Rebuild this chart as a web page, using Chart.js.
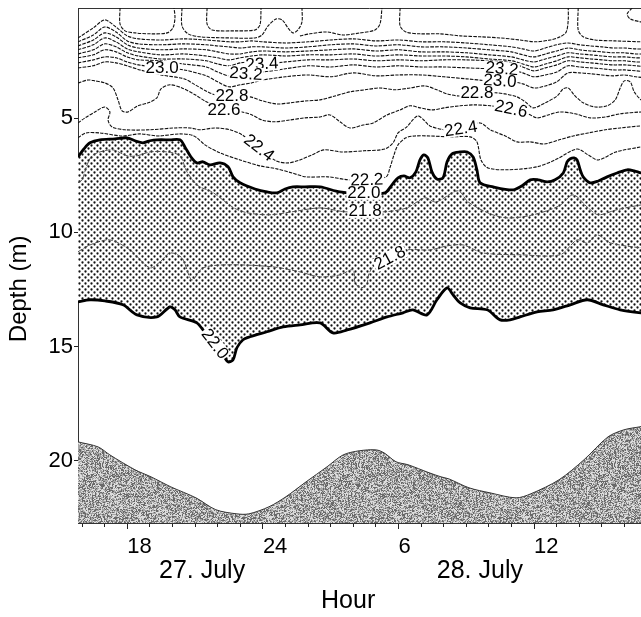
<!DOCTYPE html>
<html>
<head>
<meta charset="utf-8">
<script src="https://cdn.jsdelivr.net/npm/chart.js@4.4.1/dist/chart.umd.min.js"></script>
<style>
  html, body { margin: 0; padding: 0; background: #fff; overflow: hidden; }
  #wrap { width: 641px; height: 617px; overflow: hidden; }
  canvas { display: block; }
</style>
</head>
<body>
<div id="wrap"><canvas id="chart" width="680" height="617"></canvas></div>
<script>
/* Temperature section: isotherms vs depth and time, 27-28 July */

const NBSP = "\u00a0";
const FONT = "'Liberation Sans', Arial, Helvetica, sans-serif";

// ── Axes ─────────────────────────────────────────────────────────────────────
const HOUR_MIN = 15.82, HOUR_MAX = 41.57;
const DEPTH_MIN = 0.18, DEPTH_MAX = 22.72;
const HOUR_TICKS = [16,17,18,19,20,21,22,23,24,25,26,27,28,29,30,31,32,33,34,35,36,37,38,39,40,41];
const DEPTH_TICKS = [5, 10, 15, 20];
const DATE_TICKS = [21.31, 33.6];
const DATE_LABELS = ["27. July", "28. July"];

// ── Upper bundle of isotherms (shared hour grid) ─────────────────────────────
const hoursBundle = [15.82,16.5,17,17.5,18,18.5,19.5,20.5,21.5,22,22.5,23,23.5,24,25,26,27,28,29,30,31,32,33,34,35,35.5,36,36.5,37,37.5,38,38.5,39,39.5,40,40.5,41];
const depthU1 = [1.49,1.05,0.70,1.01,1.40,1.53,1.58,1.53,1.58,1.62,1.66,1.66,1.62,1.66,1.71,1.66,1.58,1.53,1.62,1.58,1.66,1.66,1.71,1.79,1.88,1.97,2.06,1.93,1.79,1.71,1.79,1.84,1.88,1.93,1.93,1.97,1.97];
const depthU2 = [1.66,1.36,1.01,1.23,1.62,1.75,1.79,1.75,1.79,1.84,1.88,1.93,1.88,1.88,1.93,1.88,1.79,1.75,1.84,1.79,1.88,1.88,1.93,2.01,2.10,2.23,2.32,2.19,2.06,1.93,2.01,2.06,2.10,2.14,2.14,2.19,2.19];
const depthU3 = [1.84,1.58,1.27,1.44,1.79,1.93,2.01,1.97,2.01,2.10,2.19,2.19,2.10,2.06,2.10,2.06,2.01,1.97,2.06,2.01,2.10,2.10,2.14,2.23,2.32,2.45,2.54,2.41,2.28,2.14,2.19,2.23,2.28,2.32,2.32,2.36,2.36];
const depthU4 = [2.01,1.79,1.49,1.66,1.97,2.10,2.23,2.19,2.28,2.36,2.45,2.36,2.28,2.23,2.28,2.23,2.23,2.19,2.28,2.23,2.28,2.28,2.32,2.41,2.49,2.63,2.76,2.63,2.49,2.32,2.36,2.41,2.45,2.49,2.49,2.54,2.54];
const depthU5 = [2.19,2.01,1.75,1.88,2.14,2.28,2.41,2.41,2.49,2.63,2.71,2.58,2.54,2.63,2.54,2.45,2.45,2.41,2.49,2.45,2.49,2.45,2.45,2.49,2.58,2.76,2.93,2.80,2.67,2.49,2.54,2.58,2.63,2.67,2.67,2.71,2.76];
const depthU6 = [2.36,2.23,2.01,2.10,2.32,2.45,2.49,2.63,2.76,2.98,3.15,3.02,3.02,2.98,2.84,2.71,2.76,2.67,2.76,2.71,2.76,2.76,2.80,2.84,2.89,3.02,3.19,3.11,2.98,2.71,2.76,2.80,2.84,2.89,2.89,2.93,2.98];
const depthU7 = [2.58,2.45,2.32,2.36,2.54,2.67,2.80,2.89,3.15,3.41,3.63,3.54,3.46,3.33,3.19,3.11,3.19,3.02,3.15,3.11,3.11,3.19,3.28,3.37,3.41,3.50,3.68,3.59,3.41,3.02,3.02,3.06,3.11,3.15,3.11,3.19,3.24];

// ── Warm pockets reaching the surface ────────────────────────────────────────
const pocketHours = [
  [17.68,17.68,17.90,18.34,19.00,19.76,20.02,20.11,20.07],
  [20.42,20.42,20.69,21.22,22.54,23.65,23.96,24.23,24.58,24.85,25.11,25.33,25.55,25.73,25.73],
  [21.53,21.53,21.75,22.77,23.65,23.87,23.92],
  [25.64,26.08,26.83,27.55,28.30,28.96,29.18,29.27],
  [30.07,30.07,30.33,30.95,31.84,32.73,33.61,34.50,35.38,36.04,36.71,37.15,37.42,37.51,37.51],
  [37.95,37.95,38.17,38.70,39.59,40.73,41.00],
  [40.34,40.12,40.25,40.73,41.00]
];
const pocketDepths = [
  [0.18,0.88,1.18,1.27,1.31,1.27,1.05,0.61,0.18],
  [0.18,0.96,1.31,1.44,1.49,1.49,1.36,0.96,0.66,0.70,1.05,1.27,1.14,0.79,0.18],
  [0.18,0.88,1.14,1.18,1.14,0.92,0.18],
  [1.40,1.31,1.23,1.36,1.27,1.14,0.88,0.18],
  [0.18,0.96,1.23,1.31,1.31,1.40,1.44,1.49,1.58,1.66,1.58,1.44,1.23,0.70,0.18],
  [0.18,1.14,1.44,1.58,1.62,1.66,1.66],
  [0.18,0.44,0.66,0.79,0.83]
];

// ── Isotherms 22.8 … 22.2 ────────────────────────────────────────────────────
const hours228 = [15.82,16.48,17.01,17.50,17.99,18.56,19.49,20.51,21.00,21.48,21.88,22.63,23.43,24.00,24.62,25.20,25.86,26.53,27.19,27.85,28.52,29.18,29.85,30.51,31.17,31.70,32.15,32.73,33.47,34.28,34.72,35.25,35.61,35.96,36.49,37.02,37.29,37.51,37.77,38.17,38.70,39.23,39.59,39.81,39.99,40.25,40.43,40.73,41.00];
const depth228 = [2.80,2.71,2.54,2.58,2.71,2.89,3.11,3.28,3.54,3.81,3.98,4.03,4.07,4.25,4.38,4.33,4.25,4.20,4.03,3.85,3.76,3.68,3.76,3.68,3.59,3.76,3.94,4.03,3.89,3.89,3.94,4.07,4.29,4.55,4.33,4.03,3.72,3.68,3.98,4.33,4.51,4.46,4.20,3.68,3.37,3.41,3.85,4.20,4.33];

const hours226 = [15.82,16.26,16.57,17.01,17.37,17.59,17.77,18.03,18.47,18.92,19.31,19.49,19.89,20.42,21.00,21.44,22.28,23.08,23.52,23.96,24.53,25.20,25.86,26.53,26.97,27.41,27.85,28.43,28.88,29.49,30.07,30.51,30.95,31.48,32.02,32.73,33.38,34.06,34.98,35.73,36.13,36.62,37.15,37.81,38.48,39.15,39.81,40.73,41.00];
const depth226 = [3.46,3.33,3.37,3.46,3.68,4.20,4.68,4.73,4.46,4.33,4.11,3.72,3.54,3.68,3.98,4.25,4.64,4.73,4.86,5.08,5.16,5.08,4.99,4.95,4.86,5.16,5.43,5.30,5.21,4.86,4.64,4.46,4.55,4.64,4.55,4.46,4.42,4.46,4.60,4.81,4.99,4.86,4.73,4.81,4.99,4.95,4.81,4.73,4.73];

const hours224 = [15.82,16.13,16.57,17.01,17.23,17.15,17.32,17.90,19.00,20.11,20.78,21.22,21.88,22.54,23.08,23.83,24.58,25.11,25.64,26.17,26.70,27.51,28.47,29.40,29.76,29.98,30.37,30.63,30.86,31.12,31.39,32.06,32.77,33.61,34.06,34.72,35.25,35.83,36.45,37.11,37.73,38.39,39.15,39.81,40.73,41.00];
const depth224 = [5.21,4.99,4.73,4.51,4.73,5.08,5.38,5.51,5.51,5.43,5.43,5.51,5.43,5.51,5.73,6.30,6.87,6.96,6.83,6.61,6.39,6.48,6.43,6.35,6.08,5.65,5.38,5.08,4.90,5.08,5.34,5.51,5.47,5.21,5.51,5.78,6.04,6.04,6.13,5.95,5.78,5.65,5.51,5.43,5.34,5.34];

const hours222 = [15.82,16.17,16.79,17.77,18.56,19.36,20.33,20.95,21.44,22.10,22.99,23.87,24.62,25.29,25.91,26.88,27.77,28.60,29.45,29.62,29.80,29.98,30.33,30.73,31.39,32.28,33.17,33.47,33.65,33.96,34.85,36.13,36.93,37.90,38.39,38.84,39.62,40.73,41.00];
const depth222 = [5.86,5.65,5.65,5.78,5.69,5.78,5.69,5.78,6.17,6.52,6.83,7.09,7.22,7.40,7.57,7.57,7.70,7.70,7.57,7.18,6.61,6.17,5.86,5.78,5.78,5.82,5.82,6.04,6.83,7.18,7.26,7.13,6.83,6.35,6.61,6.83,6.48,6.26,6.21];

// ── 22.0 isotherm: upper and lower bound of the cold layer ──────────────────
const hours220Top = [15.82,16.08,16.35,16.79,17.46,17.99,18.34,18.69,19.00,19.31,19.89,20.33,20.55,20.82,21.08,21.35,21.66,22.10,22.46,22.68,22.99,23.65,24.18,24.62,24.98,25.33,25.86,26.53,27.41,28.47,29.40,29.71,29.98,30.24,30.51,30.77,30.95,31.12,31.30,31.48,31.70,31.97,32.15,32.37,32.73,33.04,33.30,33.47,33.61,34.19,35.07,35.47,35.83,36.18,36.58,36.93,37.29,37.46,37.60,37.77,37.90,38.04,38.17,38.48,38.84,39.23,39.67,40.12,40.43,40.73,41.00];
const depth220Top = [6.70,6.35,6.08,5.95,5.91,5.86,5.99,6.08,5.99,5.95,5.95,5.95,6.26,6.70,6.96,6.91,7.05,6.96,7.13,7.57,7.83,8.10,8.23,8.27,8.10,8.01,8.01,8.01,8.23,8.32,8.27,7.92,7.61,7.53,7.61,7.35,6.83,6.61,6.74,7.35,7.66,7.61,6.91,6.56,6.48,6.48,6.70,7.26,7.83,8.01,8.14,7.96,7.70,7.70,7.79,7.70,7.40,6.91,6.78,6.74,6.83,7.26,7.57,7.83,7.75,7.57,7.40,7.26,7.31,7.40,7.44];

const hours220Bot = [15.82,16.35,17.01,17.81,18.43,19.31,19.89,20.11,20.33,21.08,21.35,21.88,22.32,22.46,22.68,22.85,23.12,23.43,24.18,24.89,25.64,26.53,27.10,27.73,28.74,29.49,30.20,30.63,31.26,31.70,32.15,32.42,32.73,33.17,33.92,34.50,34.94,35.38,36.13,36.84,37.60,38.35,39.06,39.81,40.73,41.00];
const depth220Bot = [13.04,12.95,13.00,13.17,13.61,13.70,13.26,13.39,13.70,13.96,14.27,14.88,15.49,15.67,15.58,15.05,14.70,14.57,14.35,14.14,14.05,13.96,14.40,14.27,13.96,13.70,13.52,13.39,13.61,12.95,12.43,12.74,13.09,13.30,13.39,13.83,13.83,13.70,13.48,13.39,13.17,12.95,13.17,13.39,13.52,13.52];

// ── 21.8 isotherms inside the cold layer ─────────────────────────────────────
const hours218Up = [15.82,16.00,16.22,16.44,16.79,17.37,17.99,18.43,19.00,19.76,20.33,20.64,21.13,21.75,22.72,23.34,24.31,25.29,26.53,27.64,28.52,29.40,30.37,31.17,31.66,32.63,33.08,34.06,34.85,35.96,37.11,37.73,38.39,38.84,39.62,40.73,41.00];
const depth218Up = [7.83,7.70,7.05,6.65,6.48,6.39,6.65,6.65,6.48,6.48,6.65,7.35,7.96,8.23,8.93,9.15,9.23,9.10,8.93,9.10,9.06,9.10,8.93,8.49,8.67,8.18,8.67,9.19,9.37,9.23,8.84,8.36,8.93,9.23,9.02,8.80,8.80];

const hours218Low = [15.82,16.35,17.23,18.12,19.00,19.45,19.89,20.42,20.86,21.35,22.54,24.45,25.64,26.53,27.41,27.99,28.08,28.34,28.60,28.69,28.96,29.62,30.37,31.39,32.15,32.86,33.74,35.38,37.15,37.90,38.35,38.79,39.37,40.73,41.00];
const depth218Low = [10.85,10.55,10.33,10.77,11.55,11.29,10.90,11.12,12.08,11.55,11.42,11.51,11.73,11.95,11.86,11.64,12.21,12.43,12.25,11.82,11.42,11.12,10.77,10.77,10.59,10.55,10.90,10.98,10.98,10.33,10.46,10.11,10.46,10.68,10.68];

// ── Sea bed ──────────────────────────────────────────────────────────────────
const hoursBed = [15.82,16.71,17.23,18.34,19.05,19.93,21.04,21.92,22.85,23.38,24.27,25.02,25.91,26.84,27.55,28.26,29.01,29.36,29.89,30.42,31.35,31.88,32.23,33.12,34.05,35.20,35.86,37.10,38.21,39.27,39.98,40.68,41.13];
const depthBed = [19.17,19.39,19.74,20.39,20.70,21.14,21.62,22.14,22.32,22.32,22.01,21.57,20.92,20.26,19.74,19.56,19.52,19.65,20.04,20.17,20.52,20.70,20.79,21.18,21.40,21.62,21.44,20.83,19.95,18.95,18.64,18.51,18.42];

// ── Contour labels ───────────────────────────────────────────────────────────
const labelText  = ["23.0","23.4","23.2","22.8","22.6","22.4","23.2","23.0","22.8","22.6","22.4","22.2","22.0","21.8","21.8","22.0"];
const labelHour  = [19.54,23.96,23.25,22.63,22.28,23.83,34.58,34.49,33.47,34.98,32.76,28.60,28.47,28.52,29.62,21.88];
const labelDepth = [2.80,2.63,3.06,4.03,4.64,6.30,2.84,3.37,3.89,4.60,5.47,7.70,8.27,9.06,11.12,14.88];
const labelAngle = [0,-3,4,0,0,38,5,4,0,12,-9,-2,0,0,-28,52];

// ── Fill patterns ────────────────────────────────────────────────────────────
function dotPattern() {
  const c = document.createElement("canvas");
  c.width = c.height = 6;
  const g = c.getContext("2d");
  g.fillStyle = "#fff"; g.fillRect(0, 0, 6, 6);
  g.fillStyle = "#111";
  [[1.5, 1.5], [4.5, 4.5]].forEach(([cx, cy]) => {
    g.beginPath(); g.arc(cx, cy, 1.15, 0, Math.PI * 2); g.fill();
  });
  return g.createPattern(c, "repeat");
}

// speckled grey for the sea bed (fixed seed, texture only)
function grainPattern() {
  const n = 128, c = document.createElement("canvas");
  c.width = c.height = n;
  const g = c.getContext("2d");
  const img = g.createImageData(n, n);
  let a = 0x9e3779b9;
  const rand = () => {
    a = (a + 0x6d2b79f5) | 0;
    let t = Math.imul(a ^ (a >>> 15), 1 | a);
    t = (t + Math.imul(t ^ (t >>> 7), 61 | t)) ^ t;
    return ((t ^ (t >>> 14)) >>> 0) / 4294967296;
  };
  for (let i = 0; i < n * n; i++) {
    const r = rand();
    const v = r < 0.3 ? 105 : r < 0.65 ? 165 : 220;
    img.data[i * 4] = img.data[i * 4 + 1] = img.data[i * 4 + 2] = v;
    img.data[i * 4 + 3] = 255;
  }
  g.putImageData(img, 0, 0);
  return g.createPattern(c, "repeat");
}

// ── Datasets ─────────────────────────────────────────────────────────────────
const pts = (hs, ds) => hs.map((h, i) => ({ x: h, y: ds[i] }));

const thin = (hs, ds) => ({
  data: pts(hs, ds),
  borderColor: "#111", borderWidth: 1.1, borderDash: [3.5, 1.2],
  pointRadius: 0, tension: 0.3, fill: false, order: 1
});

const datasets = [
  { // sea bed
    data: pts(hoursBed, depthBed),
    borderColor: "#333", borderWidth: 1, pointRadius: 0, tension: 0.3,
    fill: { value: DEPTH_MAX }, backgroundColor: grainPattern(), order: 7
  },
  { // 22.0 upper, filled down to the lower 22.0 line
    data: pts(hours220Top, depth220Top),
    borderColor: "#000", borderWidth: 2.8, pointRadius: 0, tension: 0.3,
    fill: "+1", backgroundColor: dotPattern(), order: 6
  },
  { // 22.0 lower
    data: pts(hours220Bot, depth220Bot),
    borderColor: "#000", borderWidth: 2.8, pointRadius: 0, tension: 0.3,
    fill: false, order: 5
  },
  { ...thin(hours218Up, depth218Up), borderColor: "#444", borderWidth: 0.9, borderDash: [5, 1.5] },
  { ...thin(hours218Low, depth218Low), borderColor: "#444", borderWidth: 0.9, borderDash: [5, 1.5] },
  thin(hours222, depth222),
  thin(hours224, depth224),
  thin(hours226, depth226),
  thin(hours228, depth228),
  thin(hoursBundle, depthU1),
  thin(hoursBundle, depthU2),
  thin(hoursBundle, depthU3),
  thin(hoursBundle, depthU4),
  thin(hoursBundle, depthU5),
  thin(hoursBundle, depthU6),
  thin(hoursBundle, depthU7),
  ...pocketHours.map((hs, i) => thin(hs, pocketDepths[i]))
];

// ── Contour label plugin ─────────────────────────────────────────────────────
const contourLabels = {
  id: "contourLabels",
  afterDatasetsDraw(chart) {
    const { ctx, scales: { x, y } } = chart;
    ctx.save();
    ctx.font = "17px " + FONT;
    ctx.textAlign = "center";
    ctx.textBaseline = "middle";
    labelText.forEach((t, i) => {
      const px = x.getPixelForValue(labelHour[i]);
      const py = y.getPixelForValue(labelDepth[i]);
      ctx.save();
      ctx.translate(px, py);
      ctx.rotate(labelAngle[i] * Math.PI / 180);
      const w = ctx.measureText(t).width;
      ctx.fillStyle = "#fff";
      ctx.fillRect(-w / 2 - 1, -7, w + 2, 14);
      ctx.fillStyle = "#000";
      ctx.fillText(t, 0, 0.5);
      ctx.restore();
    });
    ctx.restore();
  }
};

// ── Chart ────────────────────────────────────────────────────────────────────
const axisBorder = { display: true, color: "#333", width: 1, dash: [3, 2] };
const noPad = s => { s.paddingTop = 0; s.paddingBottom = 0; s.paddingLeft = 0; s.paddingRight = 0; };

new Chart(document.getElementById("chart"), {
  type: "line",
  data: { datasets },
  plugins: [contourLabels],
  options: {
    responsive: false,
    animation: false,
    devicePixelRatio: 1,
    layout: { padding: { top: 8, right: 20, bottom: 0, left: 0 } },
    plugins: { legend: { display: false }, tooltip: { enabled: false } },
    scales: {
      x: {
        type: "linear", position: "bottom", weight: 0,
        min: HOUR_MIN, max: HOUR_MAX,
        afterBuildTicks: s => { s.ticks = HOUR_TICKS.map(v => ({ value: v })); },
        afterFit: s => { s.height = 33; noPad(s); },
        ticks: {
          align: "start", padding: 5, color: "#000", maxRotation: 0, autoSkip: false,
          font: { family: FONT, size: 22 },
          callback: v => v % 6 === 0 ? String(v % 24 === 0 ? 24 : v % 24) : ""
        },
        grid: {
          drawOnChartArea: false, drawTicks: true, tickLength: 6,
          tickColor: "#222", tickWidth: 1,
          tickBorderDash: c => (c.tick && c.tick.value % 6 === 0) ? [] : [3, 20]
        },
        border: axisBorder
      },
      xDate: {
        type: "linear", position: "bottom", weight: 1,
        min: HOUR_MIN, max: HOUR_MAX,
        afterBuildTicks: s => { s.ticks = DATE_TICKS.map(v => ({ value: v })); },
        afterFit: s => { s.height = 61; noPad(s); },
        ticks: {
          padding: 0, color: "#000", maxRotation: 0, autoSkip: false,
          font: { family: FONT, size: 25 },
          callback: (v, i) => DATE_LABELS[i]
        },
        grid: { display: false, drawTicks: false, drawOnChartArea: false },
        border: { display: false },
        title: {
          display: true, text: "Hour" + NBSP.repeat(6), color: "#000",
          font: { family: FONT, size: 25 }, padding: { top: 0, bottom: 1 }
        }
      },
      xTop: {
        type: "linear", position: "top",
        min: HOUR_MIN, max: HOUR_MAX,
        afterFit: s => { s.height = 0; noPad(s); },
        ticks: { display: false },
        grid: { drawOnChartArea: false, drawTicks: false },
        border: axisBorder
      },
      y: {
        type: "linear", position: "left", reverse: true,
        min: DEPTH_MIN, max: DEPTH_MAX,
        afterBuildTicks: s => { s.ticks = DEPTH_TICKS.map(v => ({ value: v })); },
        afterFit: s => { s.width = 78; noPad(s); },
        ticks: { padding: 1, color: "#000", font: { family: FONT, size: 22 } },
        grid: { drawOnChartArea: false, tickLength: 4, tickColor: "#222" },
        border: axisBorder,
        title: {
          display: true, text: "Depth (m)" + NBSP.repeat(7), color: "#000",
          font: { family: FONT, size: 24 }, padding: { top: 5, bottom: 0 }
        }
      }
    }
  }
});
</script>
</body>
</html>
